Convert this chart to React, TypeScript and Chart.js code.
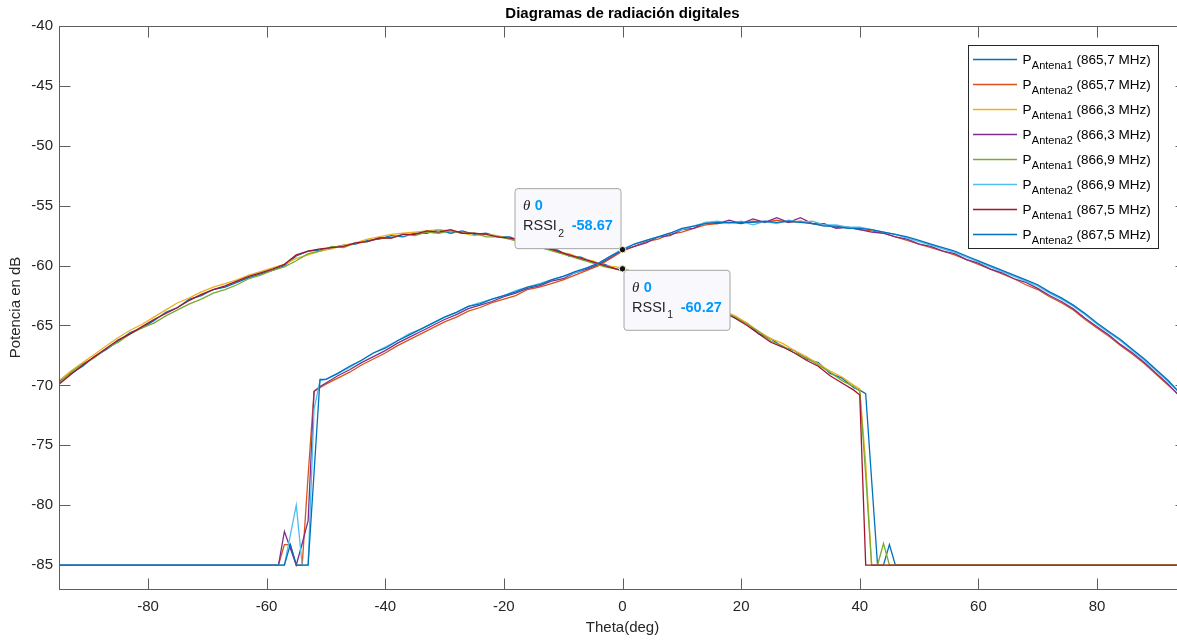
import { useEffect, useRef } from 'react';
import { Chart, registerables } from 'chart.js';

Chart.register(...registerables);

// ---------- data ----------
const titleText = 'Diagramas de radiación digitales';
const xAxisTitle = 'Theta(deg)';
const yAxisTitle = 'Potencia en dB';

const xTicks = [-80, -60, -40, -20, 0, 20, 40, 60, 80];
const yTicks = [-85, -80, -75, -70, -65, -60, -55, -50, -45, -40];

// angles for the Antena1 curves
const thetaA = [
  -95, -93, -91, -89, -87, -85, -83, -81, -79, -77,
  -75, -73, -71, -69, -67, -65, -63, -61, -59, -57,
  -55, -53, -51, -49, -47, -45, -43, -41, -39, -37,
  -35, -33, -31, -29, -27, -25, -23, -21, -19, -17,
  -15, -13, -11, -9, -7, -5, -3, -1, 1, 3,
  5, 7, 9, 11, 13, 15, 17, 19, 21, 23,
  25, 27, 29, 31, 33, 35, 37, 39,
  40, 41, 42, 43, 44, 45, 46, 95,
];

// angles for the Antena2 curves
const thetaB = [
  -95, -58, -57, -56, -55, -54, -53, -52, -51, -50,
  -48, -46, -44, -42, -40, -38, -36, -34, -32, -30,
  -28, -26, -24, -22, -20, -18, -16, -14, -12, -10,
  -8, -6, -4, -2, 0, 2, 4, 6, 8, 10,
  12, 14, 16, 18, 20, 22, 24, 26, 28, 30,
  32, 34, 36, 38, 40, 42, 44, 46, 48, 50,
  52, 54, 56, 58, 60, 62, 64, 66, 68, 70,
  72, 74, 76, 78, 80, 82, 84, 86, 88, 90,
  92, 95,
];

const pAnt1_8657 = [
  -69.7, -69.0, -68.4, -67.6, -67.0, -66.3, -65.6, -65.2, -64.6, -63.9,
  -63.5, -62.8, -62.5, -62.0, -61.8, -61.4, -61.0, -60.7, -60.4, -60.0,
  -59.2, -58.8, -58.7, -58.5, -58.3, -58.2, -57.9, -57.8, -57.5, -57.6,
  -57.3, -57.3, -57.0, -57.3, -57.1, -57.4, -57.3, -57.6, -57.6, -58.0,
  -58.1, -58.6, -58.7, -59.2, -59.3, -59.7, -59.9, -60.3, -60.4, -61.0,
  -61.2, -61.8, -62.0, -62.6, -62.8, -63.5, -63.7, -64.4, -64.8, -65.7,
  -66.1, -66.8, -67.1, -67.8, -68.1, -69.0, -69.4, -70.2,
  -70.4, -70.7, -77.9, -85, -85, -83.3, -85, -85,
];
const pAnt1_8663 = [
  -69.6, -68.8, -68.1, -67.4, -66.7, -66.0, -65.4, -64.9, -64.3, -63.7,
  -63.1, -62.7, -62.2, -61.8, -61.5, -61.2, -60.8, -60.5, -60.2, -59.9,
  -59.4, -59.1, -58.8, -58.6, -58.3, -58.1, -57.8, -57.6, -57.4, -57.3,
  -57.2, -57.1, -57.0, -57.1, -57.3, -57.5, -57.4, -57.5, -57.8, -57.9,
  -58.3, -58.4, -58.9, -59.0, -59.4, -59.6, -60.0, -60.1, -60.4, -60.8,
  -61.2, -61.6, -61.9, -62.4, -62.8, -63.3, -63.8, -64.2, -64.8, -65.5,
  -66.1, -66.5, -67.1, -67.6, -68.2, -68.8, -69.3, -70.0,
  -70.3, -76.5, -85, -85, -85, -85, -85, -85,
];
const pAnt1_8669 = [
  -69.8, -68.9, -68.2, -67.7, -66.9, -66.4, -65.7, -65.2, -64.8, -64.2,
  -63.7, -63.2, -62.8, -62.3, -62.0, -61.6, -61.1, -60.8, -60.4, -60.1,
  -59.6, -59.0, -58.8, -58.4, -58.5, -58.1, -58.0, -57.7, -57.7, -57.4,
  -57.5, -57.2, -57.3, -57.1, -57.3, -57.3, -57.6, -57.6, -57.8, -58.1,
  -58.2, -58.6, -58.9, -59.2, -59.5, -59.8, -60.1, -60.3, -60.5, -60.9,
  -61.4, -61.7, -62.2, -62.5, -63.0, -63.4, -63.9, -64.3, -64.9, -65.5,
  -66.3, -66.7, -67.3, -67.7, -68.3, -68.9, -69.6, -70.1,
  -70.5, -77.5, -85, -85, -83.2, -85, -85, -85,
];
const pAnt1_8675 = [
  -69.9, -69.1, -68.3, -67.6, -66.9, -66.2, -65.7, -65.1, -64.5, -64.0,
  -63.5, -62.9, -62.4, -62.0, -61.7, -61.3, -60.9, -60.6, -60.3, -59.9,
  -59.1, -58.8, -58.6, -58.5, -58.4, -58.1, -58.0, -57.7, -57.7, -57.4,
  -57.4, -57.1, -57.2, -57.0, -57.3, -57.3, -57.4, -57.6, -57.7, -57.9,
  -58.3, -58.5, -58.8, -59.1, -59.4, -59.7, -60.0, -60.3, -60.6, -61.0,
  -61.4, -61.8, -62.3, -62.6, -63.0, -63.5, -63.9, -64.4, -65.0, -65.7,
  -66.4, -66.8, -67.3, -67.9, -68.4, -69.2, -69.8, -70.4,
  -70.8, -85, -85, -85, -85, -85, -85, -85,
];

const pAnt2_8657 = [
  -85, -85, -83.3, -83.3, -85, -85, -77.5, -70.5, -70.2, -69.9,
  -69.4, -68.9, -68.3, -67.8, -67.3, -66.7, -66.2, -65.7, -65.2, -64.7,
  -64.3, -63.8, -63.5, -63.1, -62.8, -62.5, -62.0, -61.8, -61.5, -61.2,
  -60.8, -60.4, -60.0, -59.4, -58.8, -58.4, -58.0, -57.8, -57.4, -57.2,
  -56.9, -56.6, -56.5, -56.4, -56.5, -56.3, -56.4, -56.2, -56.4, -56.3,
  -56.5, -56.6, -56.8, -56.8, -57.0, -57.1, -57.3, -57.6, -57.9, -58.2,
  -58.5, -58.8, -59.1, -59.5, -59.9, -60.3, -60.7, -61.1, -61.6, -62.0,
  -62.6, -63.1, -63.7, -64.5, -65.2, -65.9, -66.7, -67.4, -68.2, -69.1,
  -70.0, -71.3,
];
const pAnt2_8663 = [
  -85, -85, -82.2, -83.6, -85, -83.2, -81.3, -70.5, -70.1, -69.8,
  -69.2, -68.7, -68.1, -67.6, -67.1, -66.5, -66.0, -65.5, -65.0, -64.5,
  -64.1, -63.6, -63.3, -63.0, -62.6, -62.3, -61.9, -61.7, -61.3, -61.1,
  -60.6, -60.3, -59.9, -59.3, -58.7, -58.4, -58.1, -57.6, -57.5, -57.0,
  -56.9, -56.4, -56.5, -56.2, -56.5, -56.1, -56.4, -56.0, -56.4, -56.0,
  -56.5, -56.5, -56.9, -56.8, -57.0, -57.2, -57.3, -57.6, -57.8, -58.2,
  -58.4, -58.8, -59.0, -59.5, -59.8, -60.3, -60.6, -61.1, -61.4, -61.9,
  -62.5, -63.0, -63.6, -64.4, -65.1, -65.8, -66.6, -67.3, -68.1, -69.0,
  -69.9, -71.5,
];
const pAnt2_8669 = [
  -85, -85, -85, -82.5, -80.0, -85, -85, -72.0, -69.6, -69.5,
  -69.0, -68.5, -67.9, -67.3, -66.8, -66.3, -65.7, -65.3, -64.8, -64.3,
  -63.9, -63.4, -63.1, -62.8, -62.5, -62.1, -61.8, -61.5, -61.2, -60.9,
  -60.6, -60.2, -59.8, -59.2, -58.6, -58.2, -57.9, -57.6, -57.3, -57.0,
  -56.7, -56.4, -56.3, -56.5, -56.3, -56.6, -56.3, -56.5, -56.2, -56.4,
  -56.3, -56.6, -56.6, -56.8, -56.8, -57.0, -57.2, -57.4, -57.7, -58.0,
  -58.3, -58.6, -58.9, -59.3, -59.7, -60.1, -60.5, -60.9, -61.3, -61.7,
  -62.3, -62.8, -63.4, -64.1, -64.9, -65.6, -66.3, -67.1, -67.9, -68.8,
  -69.7, -71.1,
];
const pAnt2_8675 = [
  -85, -85, -85, -83.3, -85, -85, -85, -77.3, -69.5, -69.5,
  -69.0, -68.4, -67.9, -67.3, -66.9, -66.3, -65.8, -65.3, -64.8, -64.3,
  -63.9, -63.4, -63.2, -62.8, -62.5, -62.2, -61.8, -61.6, -61.2, -60.9,
  -60.5, -60.2, -59.8, -59.2, -58.7, -58.2, -57.9, -57.6, -57.3, -56.9,
  -56.7, -56.5, -56.4, -56.4, -56.4, -56.4, -56.3, -56.4, -56.3, -56.4,
  -56.5, -56.7, -56.7, -56.9, -56.9, -57.0, -57.2, -57.4, -57.6, -57.9,
  -58.2, -58.5, -58.8, -59.2, -59.6, -60.0, -60.4, -60.8, -61.2, -61.6,
  -62.2, -62.7, -63.3, -64.0, -64.8, -65.5, -66.2, -67.0, -67.8, -68.7,
  -69.6, -71.2,
];

const antennaNames = ['Antena1', 'Antena2', 'Antena1', 'Antena2', 'Antena1', 'Antena2', 'Antena1', 'Antena2'];
const freqNames = ['(865,7 MHz)', '(865,7 MHz)', '(866,3 MHz)', '(866,3 MHz)', '(866,9 MHz)', '(866,9 MHz)', '(867,5 MHz)', '(867,5 MHz)'];
const seriesTheta = [thetaA, thetaB, thetaA, thetaB, thetaA, thetaB, thetaA, thetaB];
const seriesValues = [pAnt1_8657, pAnt2_8657, pAnt1_8663, pAnt2_8663, pAnt1_8669, pAnt2_8669, pAnt1_8675, pAnt2_8675];
const colors = ['#0072BD', '#D95319', '#EDB120', '#7E2F8E', '#77AC30', '#4DBEEE', '#A2142F', '#0072BD'];

// data tips
const tipTheta = 0;
const rssi2 = -58.67;
const rssi1 = -60.27;

const FONT = "'Liberation Sans', Arial, Helvetica, sans-serif";
const AXIS_COLOR = '#5e5e5e';
const TEXT_COLOR = '#262626';
const TIP_BLUE = '#0099ff';

function drawTip(ctx: CanvasRenderingContext2D, bx: number, by: number, sub: string, value: number) {
  const w = 106, h = 60;
  ctx.save();
  ctx.beginPath();
  (ctx as any).roundRect(bx + 0.5, by + 0.5, w, h, 3);
  ctx.fillStyle = '#f9f9fd';
  ctx.fill();
  ctx.strokeStyle = '#a6a6a6';
  ctx.lineWidth = 1;
  ctx.stroke();
  ctx.textBaseline = 'alphabetic';
  ctx.textAlign = 'left';
  // theta line
  ctx.fillStyle = TEXT_COLOR;
  ctx.font = "italic 15px 'Liberation Serif', 'DejaVu Serif', serif";
  const tx = bx + 8.5;
  ctx.fillText('θ', tx, by + 22);
  ctx.fillStyle = TIP_BLUE;
  ctx.font = `bold 14.5px ${FONT}`;
  ctx.fillText(String(tipTheta), tx + 11.7, by + 22);
  // RSSI line
  ctx.fillStyle = TEXT_COLOR;
  ctx.font = `14.5px ${FONT}`;
  ctx.fillText('RSSI', tx, by + 41.8);
  let x = tx + ctx.measureText('RSSI').width + 1.5;
  ctx.font = `10.5px ${FONT}`;
  ctx.fillText(sub, x, by + 48.5);
  x += ctx.measureText(sub).width + 7.5;
  ctx.fillStyle = TIP_BLUE;
  ctx.font = `bold 14.5px ${FONT}`;
  ctx.fillText(value.toFixed(2), x, by + 41.8);
  ctx.restore();
}

function drawDot(ctx: CanvasRenderingContext2D, x: number, y: number) {
  ctx.save();
  ctx.beginPath();
  ctx.arc(x, y, 3.2, 0, Math.PI * 2);
  ctx.fillStyle = '#111';
  ctx.fill();
  ctx.strokeStyle = '#f3f0c8';
  ctx.lineWidth = 1;
  ctx.stroke();
  ctx.restore();
}

const overlayPlugin = {
  id: 'matlabOverlay',
  afterDraw(chart: any) {
    const { ctx, chartArea: a, scales } = chart;
    const xs = scales.x;
    const ys = scales.y;
    ctx.save();
    // axes box
    ctx.strokeStyle = AXIS_COLOR;
    ctx.lineWidth = 1;
    ctx.strokeRect(a.left + 0.5, a.top + 0.5, a.right - a.left, a.bottom - a.top);
    // inward ticks
    const tl = 11;
    ctx.beginPath();
    xTicks.forEach((v) => {
      const px = Math.round(xs.getPixelForValue(v)) + 0.5;
      ctx.moveTo(px, a.bottom + 0.5);
      ctx.lineTo(px, a.bottom + 0.5 - tl);
      ctx.moveTo(px, a.top + 0.5);
      ctx.lineTo(px, a.top + 0.5 + tl);
    });
    yTicks.forEach((v) => {
      const py = Math.round(ys.getPixelForValue(v)) + 0.5;
      ctx.moveTo(a.left + 0.5, py);
      ctx.lineTo(a.left + 0.5 + tl, py);
      ctx.moveTo(a.right + 0.5, py);
      ctx.lineTo(a.right + 0.5 - tl, py);
    });
    ctx.stroke();

    // title
    const cx = (a.left + a.right) / 2;
    ctx.fillStyle = '#000';
    ctx.font = `bold 15px ${FONT}`;
    ctx.textAlign = 'center';
    ctx.textBaseline = 'middle';
    ctx.fillText(titleText, cx, 14);
    // axis titles
    ctx.fillStyle = TEXT_COLOR;
    ctx.font = `15px ${FONT}`;
    ctx.fillText(xAxisTitle, cx, 628);
    ctx.save();
    ctx.translate(16, (a.top + a.bottom) / 2);
    ctx.rotate(-Math.PI / 2);
    ctx.fillText(yAxisTitle, 0, 0);
    ctx.restore();

    // legend
    const lx = 968.5, ly = 45.5, lw = 190, lh = 203;
    ctx.fillStyle = '#fff';
    ctx.fillRect(lx, ly, lw, lh);
    ctx.strokeStyle = '#262626';
    ctx.lineWidth = 1;
    ctx.strokeRect(lx, ly, lw, lh);
    ctx.textAlign = 'left';
    ctx.textBaseline = 'alphabetic';
    for (let i = 0; i < colors.length; i++) {
      const y = 59 + i * 25;
      ctx.strokeStyle = colors[i];
      ctx.lineWidth = 1.4;
      ctx.beginPath();
      ctx.moveTo(973, y + 0.5);
      ctx.lineTo(1017, y + 0.5);
      ctx.stroke();
      ctx.fillStyle = '#000';
      let x = 1022.5;
      ctx.font = `13.5px ${FONT}`;
      ctx.fillText('P', x, y + 4.5);
      x += ctx.measureText('P').width + 0.3;
      ctx.font = `11px ${FONT}`;
      ctx.fillText(antennaNames[i], x, y + 10);
      x += ctx.measureText(antennaNames[i]).width;
      ctx.font = `13.5px ${FONT}`;
      ctx.fillText(' ' + freqNames[i], x, y + 4.5);
    }

    // data tips
    const dx = xs.getPixelForValue(tipTheta);
    const dy2 = ys.getPixelForValue(rssi2);
    const dy1 = ys.getPixelForValue(rssi1);
    drawTip(ctx, dx - 108, dy2 - 61.5, '2', rssi2);
    drawTip(ctx, dx + 1, dy1 + 1, '1', rssi1);
    drawDot(ctx, dx, dy2);
    drawDot(ctx, dx, dy1);
    ctx.restore();
  },
};

export default function App() {
  const ref = useRef<HTMLCanvasElement | null>(null);

  useEffect(() => {
    document.body.style.margin = '0';
    if (!ref.current) return;
    Chart.defaults.font.family = FONT;
    const datasets = seriesValues.map((vals, i) => ({
      label: `P_${antennaNames[i]} ${freqNames[i]}`,
      data: vals.map((v, j) => ({ x: seriesTheta[i][j], y: v })),
      borderColor: colors[i],
      backgroundColor: colors[i],
      borderWidth: 1.3,
      pointRadius: 0,
      tension: 0,
      fill: false,
      order: colors.length - 1 - i,
    }));
    const chart = new Chart(ref.current, {
      type: 'line',
      data: { datasets },
      options: {
        responsive: false,
        animation: false,
        devicePixelRatio: 1,
        layout: { padding: { top: 26, right: 8, left: 0, bottom: 0 } },
        plugins: {
          legend: { display: false },
          tooltip: { enabled: false },
          title: { display: false },
        },
        scales: {
          x: {
            type: 'linear',
            min: -95,
            max: 95,
            grid: { display: false, drawTicks: false },
            border: { display: false },
            ticks: { font: { size: 15 }, color: TEXT_COLOR, padding: 9, autoSkip: false, maxRotation: 0 },
            afterBuildTicks: (s: any) => {
              s.ticks = xTicks.map((v) => ({ value: v }));
            },
            afterFit: (s: any) => {
              s.height = 52;
            },
          },
          y: {
            type: 'linear',
            min: -87,
            max: -40,
            grid: { display: false, drawTicks: false },
            border: { display: false },
            ticks: { font: { size: 15 }, color: TEXT_COLOR, padding: 6, autoSkip: false },
            afterBuildTicks: (s: any) => {
              s.ticks = yTicks.map((v) => ({ value: v }));
            },
            afterFit: (s: any) => {
              s.width = 59;
            },
          },
        },
      },
      plugins: [overlayPlugin],
    } as any);
    return () => chart.destroy();
  }, []);

  return (
    <div style={{ width: 1177, height: 641, overflow: 'hidden', position: 'relative', background: '#fff' }}>
      <canvas ref={ref} width={1194} height={641} style={{ display: 'block' }} />
    </div>
  );
}
